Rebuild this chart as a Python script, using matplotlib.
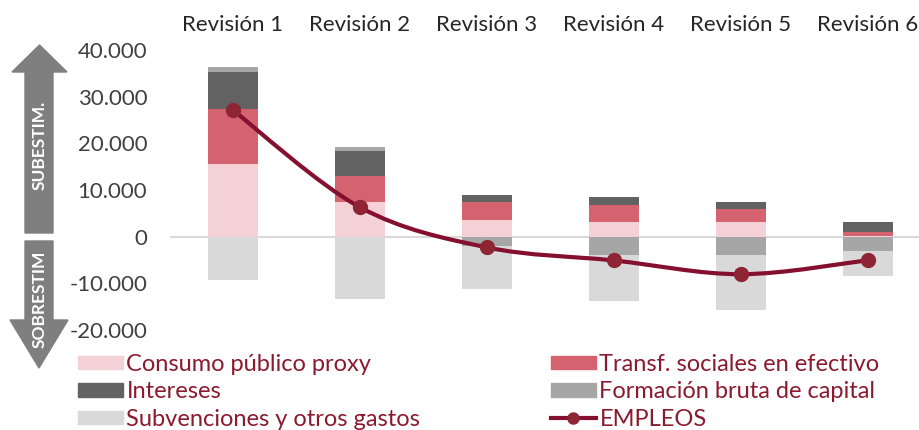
import matplotlib.pyplot as plt
import numpy as np
from matplotlib.patches import Polygon, Patch
from matplotlib.lines import Line2D
from matplotlib.path import Path
from matplotlib.patches import PathPatch
from matplotlib.ticker import FuncFormatter, MultipleLocator

plt.rcParams['font.family'] = ['Lato', 'DejaVu Sans']

revisiones = ['Revisión 1', 'Revisión 2', 'Revisión 3', 'Revisión 4', 'Revisión 5', 'Revisión 6']
consumo = [15600, 7500, 3500, 3100, 3100, 150]
transf = [11700, 5500, 4000, 3600, 2900, 800]
intereses = [8000, 5400, 1400, 1850, 1500, 2100]
formacion = [1100, 800, -2000, -3900, -3900, -3000]
subvenciones = [-9300, -13300, -9200, -9800, -11900, -5500]
empleos = [27100, 6300, -2300, -5100, -8050, -5050]

c_consumo = '#F4D1D6'
c_transf = '#D5636F'
c_intereses = '#626262'
c_formacion = '#A6A6A6'
c_subv = '#D9D9D9'
c_line = '#850F2E'
c_marker = '#8E2535'
c_text = '#8B1A2E'

W, H = 919, 430
fig = plt.figure(figsize=(W / 100, H / 100), dpi=100)
ax = fig.add_axes([169.5 / W, 100 / H, 762 / W, 280 / H])

x = np.arange(len(revisiones))
wbar = 0.39

# apilado: positivos hacia arriba, negativos hacia abajo
series = [(consumo, c_consumo), (transf, c_transf), (intereses, c_intereses),
          (formacion, c_formacion), (subvenciones, c_subv)]
pos = np.zeros(len(x))
neg = np.zeros(len(x))
for vals, col in series:
    v = np.array(vals, dtype=float)
    bottom = np.where(v >= 0, pos, neg)
    ax.bar(x, v, wbar, bottom=bottom, color=col, zorder=2)
    pos = pos + np.where(v >= 0, v, 0)
    neg = neg + np.where(v < 0, v, 0)

ax.axhline(0, color='#D9D9D9', lw=1.5, zorder=1)

# linea suavizada (bezier tipo Excel)
pts = np.column_stack([x, empleos]).astype(float)
verts = [pts[0]]
codes = [Path.MOVETO]
n = len(pts)
for i in range(n - 1):
    p0 = pts[max(i - 1, 0)]
    p1 = pts[i]
    p2 = pts[i + 1]
    p3 = pts[min(i + 2, n - 1)]
    verts += [p1 + (p2 - p0) / 6, p2 - (p3 - p1) / 6, p2]
    codes += [Path.CURVE4] * 3
ax.add_patch(PathPatch(Path(verts, codes), fill=False, edgecolor=c_line, lw=3, zorder=3,
                       capstyle='round'))
ax.plot(x, empleos, 'o', color=c_marker, ms=10, zorder=4)

ax.set_xlim(-0.5, 5.5)
ax.set_ylim(-20000, 40000)
ax.yaxis.set_major_locator(MultipleLocator(10000))
ax.yaxis.set_major_formatter(FuncFormatter(lambda v, p: f'{v:,.0f}'.replace(',', '.')))
ax.set_xticks(x)
ax.set_xticklabels(revisiones)
ax.xaxis.tick_top()
ax.tick_params(axis='x', length=0, pad=11, labelsize=16, labelcolor='#262626')
ax.tick_params(axis='y', length=0, pad=16, labelsize=16, labelcolor='#404040')
for s in ax.spines.values():
    s.set_visible(False)


def fp(px, py):
    return (px / W, 1 - py / H)


gris = '#7F7F7F'
up = [fp(25, 233), fp(53, 233), fp(53, 72), fp(67, 72), fp(39.5, 45), fp(12, 72), fp(25, 72)]
dn = [fp(25, 241), fp(53, 241), fp(53, 320), fp(68, 320), fp(39, 368), fp(10, 320), fp(25, 320)]
for poly in (up, dn):
    fig.add_artist(Polygon(poly, closed=True, transform=fig.transFigure, color=gris))
fig.text(*fp(39.5, 145), 'SUBESTIM.', rotation=90, color='white', fontsize=12.5,
         fontweight='bold', ha='center', va='center')
fig.text(*fp(39.5, 299), 'SOBRESTIM', rotation=90, color='white', fontsize=12.5,
         fontweight='bold', ha='center', va='center')

h_left = [Patch(color=c_consumo, label='Consumo público proxy'),
          Patch(color=c_intereses, label='Intereses'),
          Patch(color=c_subv, label='Subvenciones y otros gastos')]
h_right = [Patch(color=c_transf, label='Transf. sociales en efectivo'),
           Patch(color=c_formacion, label='Formación bruta de capital'),
           Line2D([], [], color=c_line, lw=3, marker='o', ms=8, mfc=c_marker, mec=c_marker,
                  label='EMPLEOS')]
legkw = dict(frameon=False, fontsize=17, handlelength=1.9, handleheight=0.51,
             handletextpad=0.15, labelspacing=0.27, borderpad=0, borderaxespad=0,
             labelcolor=c_text, loc='upper left')
fig.legend(handles=h_left, bbox_to_anchor=fp(78, 354), **legkw)
fig.legend(handles=h_right, bbox_to_anchor=fp(551, 354), **legkw)

fig.savefig('out.png', dpi=100)
